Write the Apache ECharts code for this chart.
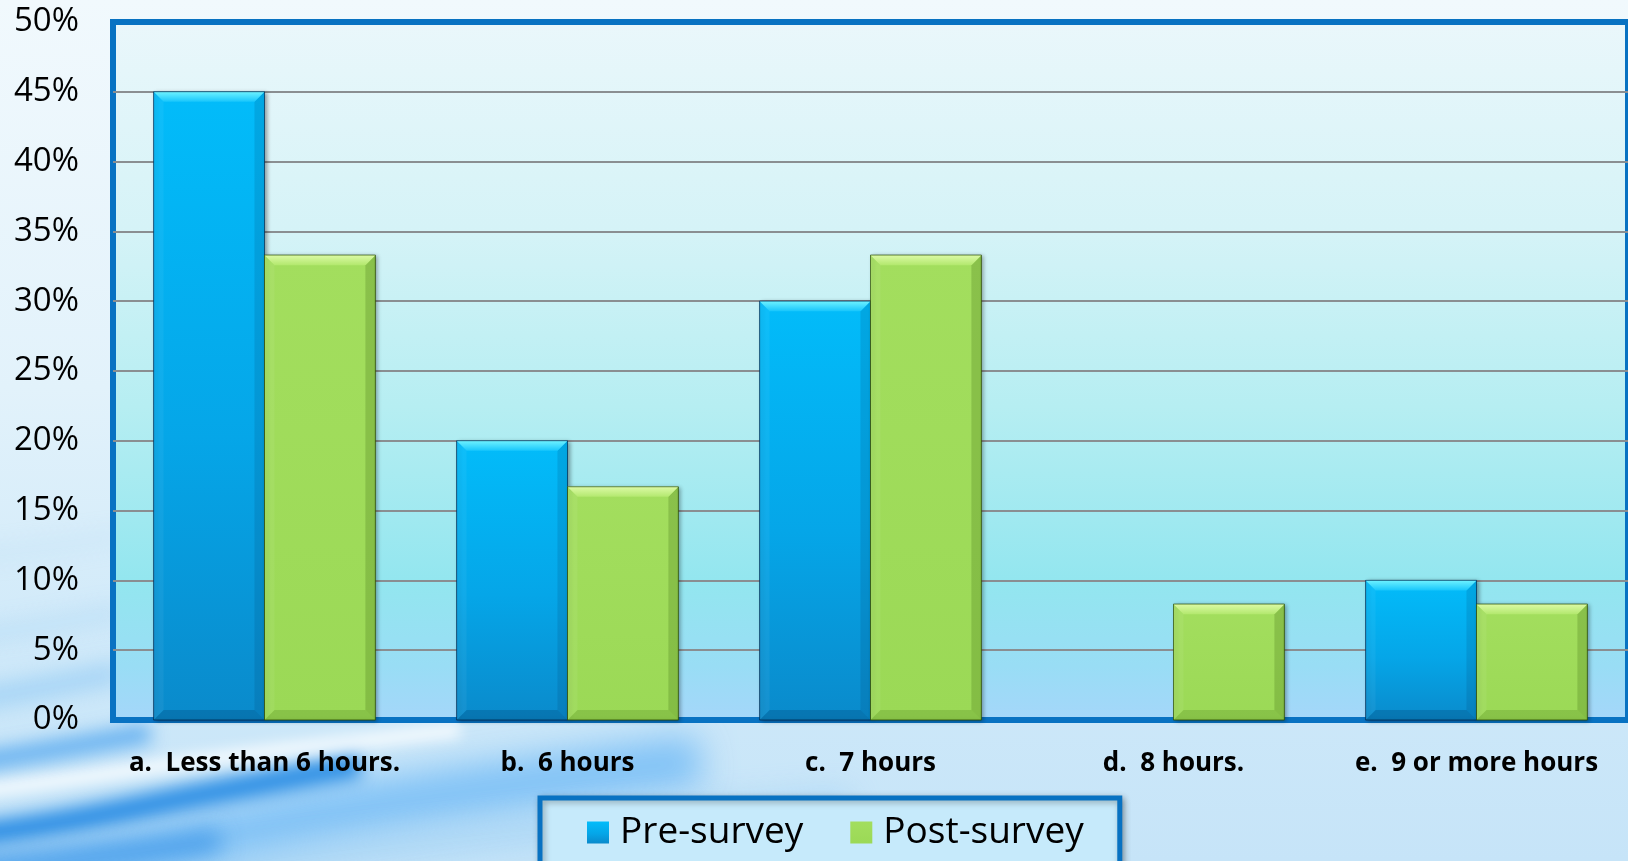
<!DOCTYPE html>
<html>
<head>
<meta charset="utf-8">
<title>Hours of sleep: pre- and post-survey</title>
<script src="https://cdn.jsdelivr.net/npm/echarts@6.0.0/dist/echarts.min.js"></script>
<style>
  html, body { margin: 0; padding: 0; width: 1628px; height: 861px; overflow: hidden; }
  #chart { width: 1628px; height: 861px; }
</style>
</head>
<body>
<div id="chart"></div>
<script>
// Answer categories and the share of respondents (percent) per survey
const categories = ['a.  Less than 6 hours.', 'b.  6 hours', 'c.  7 hours', 'd.  8 hours.', 'e.  9 or more hours'];
const preSurvey = [45, 20, 30, 0, 10];
const postSurvey = [33.3, 16.7, 33.3, 8.3, 8.3];
const seriesNames = ['Pre-survey', 'Post-survey'];
const yMin = 0;
const yMax = 50;
const yStep = 5;

// Share of a category band taken by each bar, and bevel depth in px
const BAR_SHARE = 0.366;
const BEVEL = 10;

const lin = (stops, x2 = 0, y2 = 1) => new echarts.graphic.LinearGradient(0, 0, x2, y2,
  stops.map(([offset, color]) => ({ offset, color })));

const palettes = [
  {
    body: [[0, '#02bcfa'], [0.55, '#05a6e8'], [1, '#0a8acb']],
    top: [[0, '#6ef2ff'], [1, '#18c6fc']],
    left: 'rgba(255,255,255,0.05)',
    right: 'rgba(0,50,90,0.14)',
    bottom: 'rgba(0,45,85,0.22)',
    edge: 'rgba(0,40,80,0.45)'
  },
  {
    body: [[0, '#a3de5e'], [1, '#9bd956']],
    top: [[0, '#dcfaa6'], [1, '#b3e86e']],
    left: 'rgba(255,255,255,0.06)',
    right: 'rgba(40,80,0,0.20)',
    bottom: 'rgba(40,80,0,0.16)',
    edge: 'rgba(40,70,0,0.45)'
  }
];

// Bevelled bar drawn from the axis scales; side = -1 left of centre, +1 right
function bevelBar(side, pal) {
  return function (params, api) {
    const value = api.value(1);
    if (!value) return null;
    const base = api.coord([api.value(0), 0]);
    const top = api.coord([api.value(0), value]);
    const w = api.size([1, 0])[0] * BAR_SHARE;
    const x = side < 0 ? base[0] - w : base[0];
    const y = top[1];
    const h = base[1] - top[1];
    const b = Math.min(BEVEL, h / 2, w / 2);
    const poly = (points, fill) => ({ type: 'polygon', shape: { points }, style: { fill }, silent: true });
    return {
      type: 'group',
      children: [
        {
          type: 'rect',
          shape: { x, y, width: w, height: h },
          style: {
            fill: lin(pal.body), stroke: pal.edge, lineWidth: 1,
            shadowBlur: 4, shadowOffsetX: 2, shadowOffsetY: 1, shadowColor: 'rgba(0,0,0,0.35)'
          }
        },
        poly([[x, y], [x + b, y + b], [x + b, y + h - b], [x, y + h]], pal.left),
        poly([[x + w, y], [x + w, y + h], [x + w - b, y + h - b], [x + w - b, y + b]], pal.right),
        poly([[x, y + h], [x + w, y + h], [x + w - b, y + h - b], [x + b, y + h - b]], pal.bottom),
        poly([[x, y], [x + w, y], [x + w - b, y + b], [x + b, y + b]], lin(pal.top)),
        {
          type: 'rect',
          shape: { x, y, width: w, height: h },
          style: { fill: null, stroke: pal.edge, lineWidth: 1 },
          silent: true
        }
      ]
    };
  };
}

// Soft, fully blurred streak in the page background: the stroke itself sits
// far off-canvas and only its shadow is brought back into view.
const SHIFT = 4000;
function streak(points, width, color, blur) {
  return {
    type: 'polyline',
    z: -10,
    silent: true,
    shape: { points: points.map(([px, py]) => [px, py + SHIFT]), smooth: 0.4 },
    style: {
      stroke: color, lineWidth: width, fill: null, lineCap: 'butt',
      shadowBlur: blur, shadowColor: color, shadowOffsetX: 0, shadowOffsetY: -SHIFT
    }
  };
}

const chart = echarts.init(document.getElementById('chart'), null, { renderer: 'canvas' });

chart.setOption({
  animation: false,
  backgroundColor: lin([[0, '#f1f9fd'], [0.45, '#e2f2fb'], [0.8, '#cde8f9'], [1, '#c6e4f8']]),
  graphic: [
    streak([[-80, 900], [120, 860], [350, 810], [700, 760]], 50, 'rgba(110,185,245,0.9)', 34),
    streak([[-80, 842], [60, 822], [200, 795], [360, 765]], 24, 'rgba(40,140,228,1)', 18),
    streak([[-80, 798], [60, 780], [220, 758], [460, 730]], 14, 'rgba(255,255,255,0.9)', 14),
    streak([[-80, 770], [40, 752], [150, 733]], 20, 'rgba(80,165,238,0.9)', 18),
    streak([[-60, 705], [40, 688], [120, 672]], 16, 'rgba(120,190,242,0.8)', 22),
    streak([[-60, 640], [40, 626], [120, 612]], 12, 'rgba(140,200,245,0.6)', 22),
    streak([[-60, 560], [40, 548], [120, 536]], 10, 'rgba(160,210,245,0.5)', 22),
    streak([[200, 870], [500, 835], [850, 805]], 28, 'rgba(150,205,245,0.7)', 30),
    streak([[-60, 870], [80, 858], [220, 840]], 22, 'rgba(60,150,232,0.9)', 22)
  ],
  grid: {
    left: 113,
    top: 22,
    width: 1517,
    height: 698,
    show: true,
    borderColor: '#0872c2',
    borderWidth: 6,
    backgroundColor: lin([[0, '#eaf7fb'], [0.3, '#d5f3f7'], [0.55, '#b6eef2'], [0.8, '#93e6ef'], [0.92, '#99ddf5'], [1, '#a5d6fa']])
  },
  legend: {
    data: seriesNames,
    left: 540,
    top: 798,
    orient: 'horizontal',
    icon: 'rect',
    itemWidth: 22,
    itemHeight: 22,
    itemGap: 47,
    padding: [16, 36, 60, 47],
    backgroundColor: '#c6eafb',
    borderColor: '#0872c2',
    borderWidth: 5,
    shadowBlur: 6,
    shadowOffsetX: 2,
    shadowOffsetY: 2,
    shadowColor: 'rgba(0,0,0,0.3)',
    textStyle: {
      fontFamily: 'Open Sans',
      fontSize: 37,
      color: '#000',
      padding: [0, 0, 0, 6]
    }
  },
  xAxis: {
    type: 'category',
    data: categories,
    axisLine: { show: false },
    axisTick: { show: false },
    splitLine: { show: false },
    axisLabel: {
      interval: 0,
      margin: 31,
      fontFamily: 'Open Sans',
      fontWeight: 'bold',
      fontSize: 26,
      color: '#000'
    }
  },
  yAxis: {
    type: 'value',
    min: yMin,
    max: yMax,
    interval: yStep,
    axisLine: { show: false },
    axisTick: { show: false },
    splitLine: {
      show: true,
      showMinLine: false,
      showMaxLine: false,
      lineStyle: { color: '#8a8e91', width: 2 }
    },
    axisLabel: {
      margin: 34,
      fontFamily: 'Open Sans',
      fontSize: 33,
      color: '#000',
      formatter: '{value}%'
    }
  },
  series: [
    {
      name: seriesNames[0],
      type: 'custom',
      renderItem: bevelBar(-1, palettes[0]),
      encode: { x: 0, y: 1 },
      itemStyle: { color: lin(palettes[0].body) },
      data: preSurvey.map((v, i) => [i, v]),
      z: 3
    },
    {
      name: seriesNames[1],
      type: 'custom',
      renderItem: bevelBar(1, palettes[1]),
      encode: { x: 0, y: 1 },
      itemStyle: { color: lin(palettes[1].body) },
      data: postSurvey.map((v, i) => [i, v]),
      z: 3
    }
  ]
});
</script>
</body>
</html>
